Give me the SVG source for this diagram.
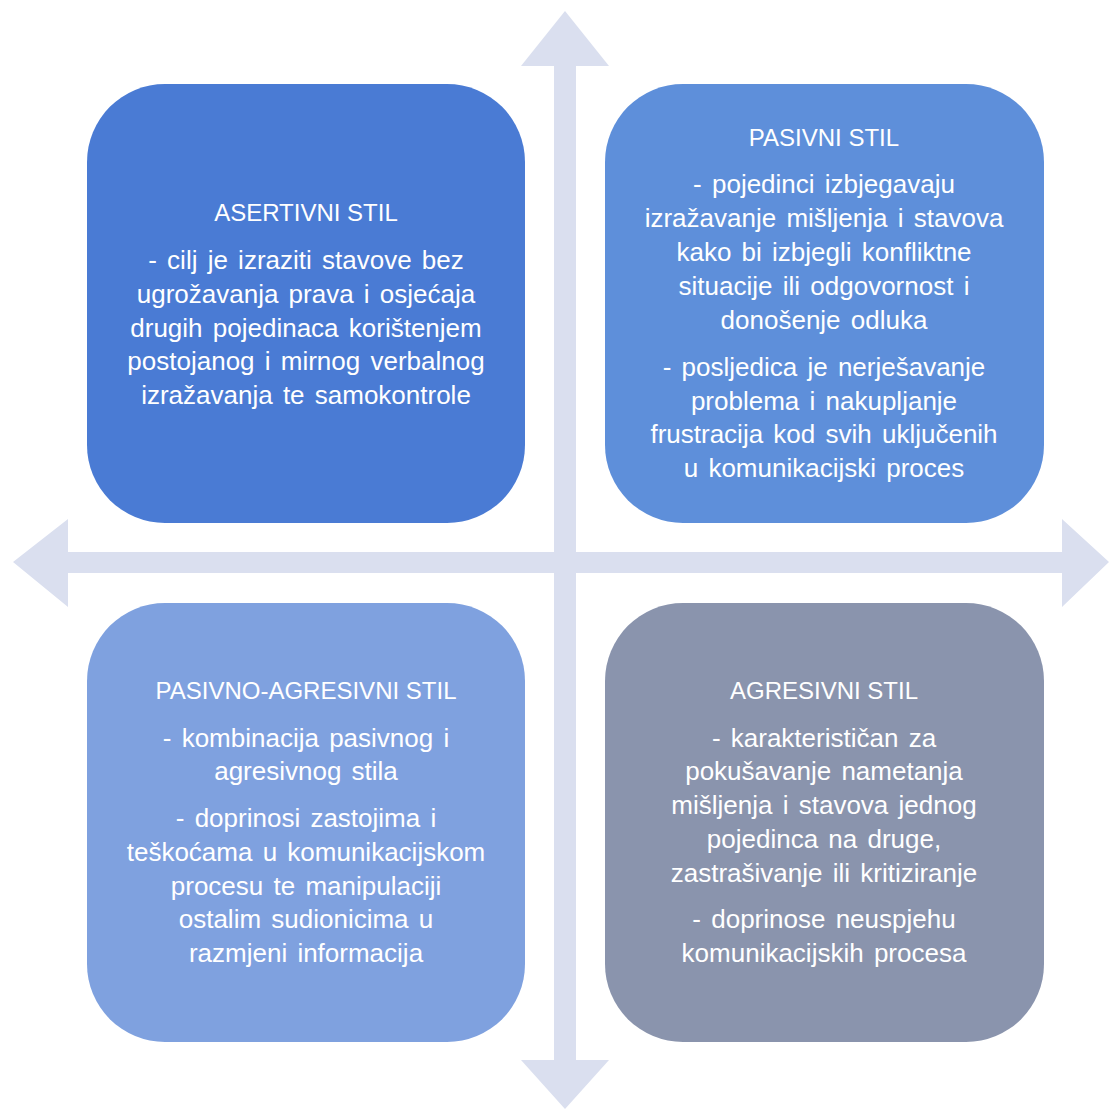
<svg xmlns="http://www.w3.org/2000/svg" width="1110" height="1109" viewBox="0 0 1110 1109">
<style>
.t{font-family:"Liberation Sans",Arial,sans-serif;fill:#FFFFFF;text-anchor:middle}
.h{font-size:24px}
.b{font-size:26px;word-spacing:3px}
.arr{fill:#DADFEF}
</style>
<rect width="1110" height="1109" fill="#FFFFFF"/>
<g id="connectors">
<polygon class="arr" points="565,11 609,66 576,66 576,1060 609,1060 565,1109 521,1060 554,1060 554,66 521,66"/>
<polygon class="arr" points="13,562 68,519 68,552 1062,552 1062,519 1109,562 1062,607 1062,573 68,573 68,607"/>
</g>
<g id="asertivni">
<rect x="87" y="84" width="438" height="439" rx="78" fill="#4A7BD4"/>
<text class="t h" x="306" y="221">ASERTIVNI STIL</text>
<text class="t b" x="306" y="269">- cilj je izraziti stavove bez</text>
<text class="t b" x="306" y="303">ugrožavanja prava i osjećaja</text>
<text class="t b" x="306" y="337">drugih pojedinaca korištenjem</text>
<text class="t b" x="306" y="370">postojanog i mirnog verbalnog</text>
<text class="t b" x="306" y="404">izražavanja te samokontrole</text>
</g>
<g id="pasivni">
<rect x="605" y="84" width="439" height="439" rx="78" fill="#5E8FDA"/>
<text class="t h" x="824" y="146">PASIVNI STIL</text>
<text class="t b" x="824" y="193">- pojedinci izbjegavaju</text>
<text class="t b" x="824" y="227">izražavanje mišljenja i stavova</text>
<text class="t b" x="824" y="261">kako bi izbjegli konfliktne</text>
<text class="t b" x="824" y="295">situacije ili odgovornost i</text>
<text class="t b" x="824" y="329">donošenje odluka</text>
<text class="t b" x="824" y="376">- posljedica je nerješavanje</text>
<text class="t b" x="824" y="410">problema i nakupljanje</text>
<text class="t b" x="824" y="443">frustracija kod svih uključenih</text>
<text class="t b" x="824" y="477">u komunikacijski proces</text>
</g>
<g id="pasivno-agresivni">
<rect x="87" y="603" width="438" height="439" rx="78" fill="#7FA1DF"/>
<text class="t h" x="306" y="699">PASIVNO-AGRESIVNI STIL</text>
<text class="t b" x="306" y="747">- kombinacija pasivnog i</text>
<text class="t b" x="306" y="780">agresivnog stila</text>
<text class="t b" x="306" y="827">- doprinosi zastojima i</text>
<text class="t b" x="306" y="861">teškoćama u komunikacijskom</text>
<text class="t b" x="306" y="895">procesu te manipulaciji</text>
<text class="t b" x="306" y="928">ostalim sudionicima u</text>
<text class="t b" x="306" y="962">razmjeni informacija</text>
</g>
<g id="agresivni">
<rect x="605" y="603" width="439" height="439" rx="78" fill="#8A94AD"/>
<text class="t h" x="824" y="699">AGRESIVNI STIL</text>
<text class="t b" x="824" y="747">- karakterističan za</text>
<text class="t b" x="824" y="780">pokušavanje nametanja</text>
<text class="t b" x="824" y="814">mišljenja i stavova jednog</text>
<text class="t b" x="824" y="848">pojedinca na druge,</text>
<text class="t b" x="824" y="882">zastrašivanje ili kritiziranje</text>
<text class="t b" x="824" y="928">- doprinose neuspjehu</text>
<text class="t b" x="824" y="962">komunikacijskih procesa</text>
</g>
</svg>
